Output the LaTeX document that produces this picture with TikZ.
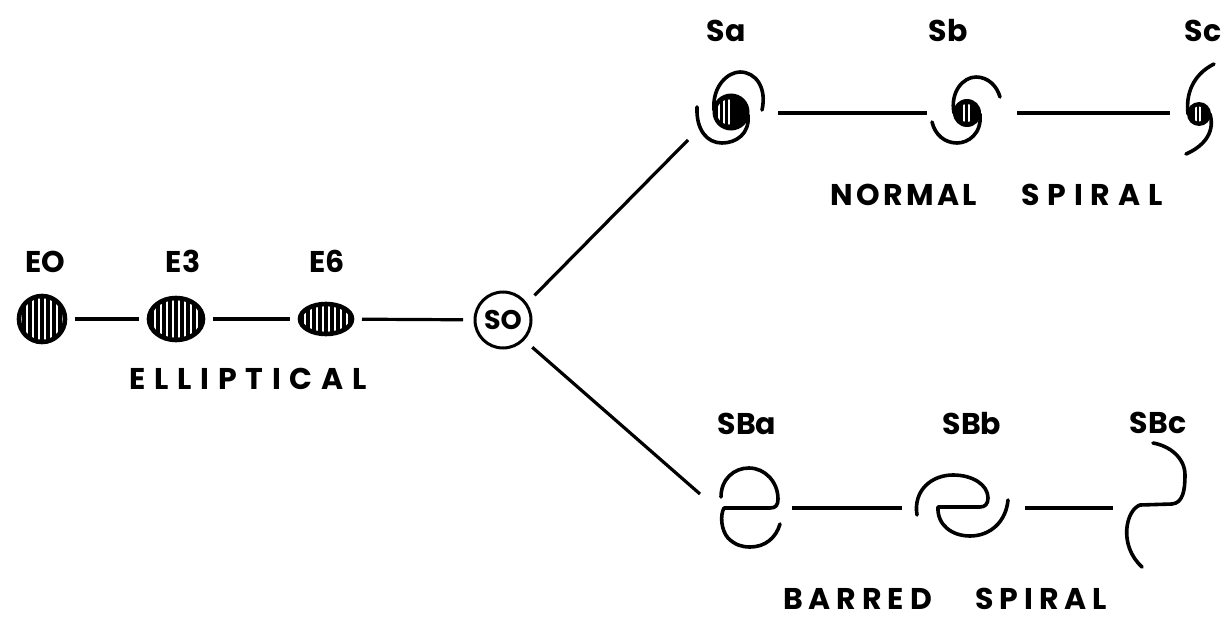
\documentclass[tikz,border=0pt]{standalone}
\usepackage{fontspec}
\setmainfont{Poppins}
\usetikzlibrary{shapes.geometric}

% letters spread evenly over a given width
\newcommand\spreadword[2]{\makebox[#1pt][s]{#2}}

\tikzset{
  link/.style={line width=3.2pt},
  arm/.style={line width=3.6pt, line cap=round, line join=round},
  tag/.style={font=\fontsize{30}{34}\selectfont\bfseries, inner sep=0pt, anchor=base},
  ellgal/.style={ellipse, draw, line width=4.6pt, inner sep=0pt, outer sep=10pt,
    path picture={
      \foreach \k in {-36,-30,...,36}
        \draw[line width=3.5pt] ([xshift=\k pt]path picture bounding box.center) ++(0,-40) -- ++(0,80);
    }},
  spot/.style={rectangle, draw=none, inner sep=0pt, outer sep=0pt},
}

\begin{document}
\begin{tikzpicture}[x=1pt,y=-1pt]
\useasboundingbox (0,0) rectangle (1227,618);

% ---------------- elliptical sequence ----------------
\node[ellgal, minimum width=46pt, minimum height=46pt] (e0) at (42,319) {};
\node[ellgal, minimum width=54pt, minimum height=42pt] (e3) at (176,319) {};
\node[ellgal, minimum width=52pt, minimum height=30pt] (e6) at (326,319) {};
\node[circle, draw, line width=3pt, minimum size=56pt, inner sep=0pt, outer sep=12pt,
      font=\fontsize{27}{30}\selectfont\bfseries] (so) at (503,320) {SO};

\node[tag] (te0) at (45,272) {EO};
\node[tag] (te3) at (183,272) {E3};
\node[tag] (te6) at (327,272) {E6};
\node[tag] (tell) at (248,389) {\spreadword{237}{E\hfill L\hfill L\hfill I\hfill P\hfill T\hfill I\hfill C\hfill A\hfill L}};

\draw[link] (e0) -- (e3);
\draw[link] (e3) -- (e6);
\draw[link] (e6) -- (so);

% ---------------- normal spirals ----------------
\node[spot, minimum width=90pt, minimum height=54pt] (sa) at (733,113) {};
\node[spot, minimum width=90pt, minimum height=40pt] (sb) at (972,113) {};
\node[spot, minimum width=56pt, minimum height=40pt] (sc) at (1198,113) {};

\node[tag] (tsa) at (726,42) {Sa};
\node[tag] (tsb) at (948,42) {Sb};
\node[tag] (tsc) at (1203,42) {Sc};
\node[tag] (tnorm) at (903.5,205) {\spreadword{147}{N\hfill O\hfill R\hfill M\hfill A\hfill L}};
\node[tag] (tnsp) at (1092,205) {\spreadword{141}{S\hfill P\hfill I\hfill R\hfill A\hfill L}};

% Sa: large striped bulge, wide arms
\fill (731,112) circle (18.5);
\begin{scope}
  \clip (729,112) circle (12.5);
  \foreach \k in {-10,-5,0} \draw[white, line width=1.6pt] (729+\k,95) -- (729+\k,130);
\end{scope}
\draw[arm] (714,110) .. controls (712,86) and (728,72) .. (740,72)
                     .. controls (756,72) and (767,88) .. (762,110);
\draw[arm] (748,115) .. controls (750,134) and (736,143) .. (722,143)
                     .. controls (707,143) and (696,130) .. (697,107);

% Sb: medium bulge
\fill (967,113) circle (14);
\begin{scope}
  \clip (967,113) circle (9);
  \foreach \k in {-3,2} \draw[white, line width=1.4pt] (967+\k,100) -- (967+\k,126);
\end{scope}
\draw[arm] (954,113) .. controls (950,92) and (963,77) .. (976,77)
                     .. controls (988,77) and (997,86) .. (1000,97);
\draw[arm] (980,114) .. controls (982,134) and (968,143) .. (957,143)
                     .. controls (945,143) and (935,135) .. (932,122);

% Sc: small bulge, open arms
\fill (1199,114) circle (12);
\begin{scope}
  \clip (1199,114) circle (7.5);
  \foreach \k in {-3,1} \draw[white, line width=1.3pt] (1199+\k,100) -- (1199+\k,128);
\end{scope}
\draw[arm] (1188,114) .. controls (1185,88) and (1198,72) .. (1214,64);
\draw[arm] (1210,114) .. controls (1216,135) and (1200,148) .. (1186,154);

\draw[link] (so.38) -- (sa.south west);
\draw[link] (sa.east) -- (sb.west);
\draw[link] (sb.east) -- (sc.west);

% ---------------- barred spirals ----------------
\node[spot, minimum width=92pt, minimum height=28pt] (sba) at (746,508) {};
\node[spot, minimum width=123pt, minimum height=28pt] (sbb) at (963.5,508) {};
\node[spot, minimum width=74pt, minimum height=28pt] (sbc) at (1150,508) {};

\node[tag] (tsba) at (747,434) {SBa};
\node[tag] (tsbb) at (972,434) {SBb};
\node[tag] (tsbc) at (1158,433) {SBc};
\node[tag] (tbar) at (857.5,609) {\spreadword{149}{B\hfill A\hfill R\hfill R\hfill E\hfill D}};
\node[tag] (tbsp) at (1041,609) {\spreadword{132}{S\hfill P\hfill I\hfill R\hfill A\hfill L}};

% SBa
\draw[arm] (721,497) .. controls (721,479) and (734,468) .. (749,468)
                     .. controls (765,468) and (778,482) .. (778,499)
                     .. controls (778,505) and (776,508) .. (770,508) -- (724,508)
                     .. controls (720,515) and (721,530) .. (728,538)
                     .. controls (735,545) and (742,547) .. (750,547)
                     .. controls (765,547) and (776,538) .. (780,524);
% SBb
\draw[arm] (917,515) .. controls (913,490) and (932,475) .. (953,475)
                     .. controls (973,475) and (988,485) .. (988,498)
                     .. controls (988,504) and (985,507) .. (980,507) -- (938,507)
                     .. controls (937,525) and (952,536) .. (970,536)
                     .. controls (990,536) and (1006,522) .. (1008,500);
% SBc
\draw[arm] (1153,443) .. controls (1170,446) and (1185,458) .. (1185,475)
                      .. controls (1185,490) and (1183,503) .. (1172,504) -- (1140,505)
                      .. controls (1126,510) and (1118,545) .. (1142,567);

\draw[link] (so.-43) -- (sba.north west);
\draw[link] (sba.east) -- (sbb.west);
\draw[link] (sbb.east) -- (sbc.west);
\end{tikzpicture}
\end{document}
